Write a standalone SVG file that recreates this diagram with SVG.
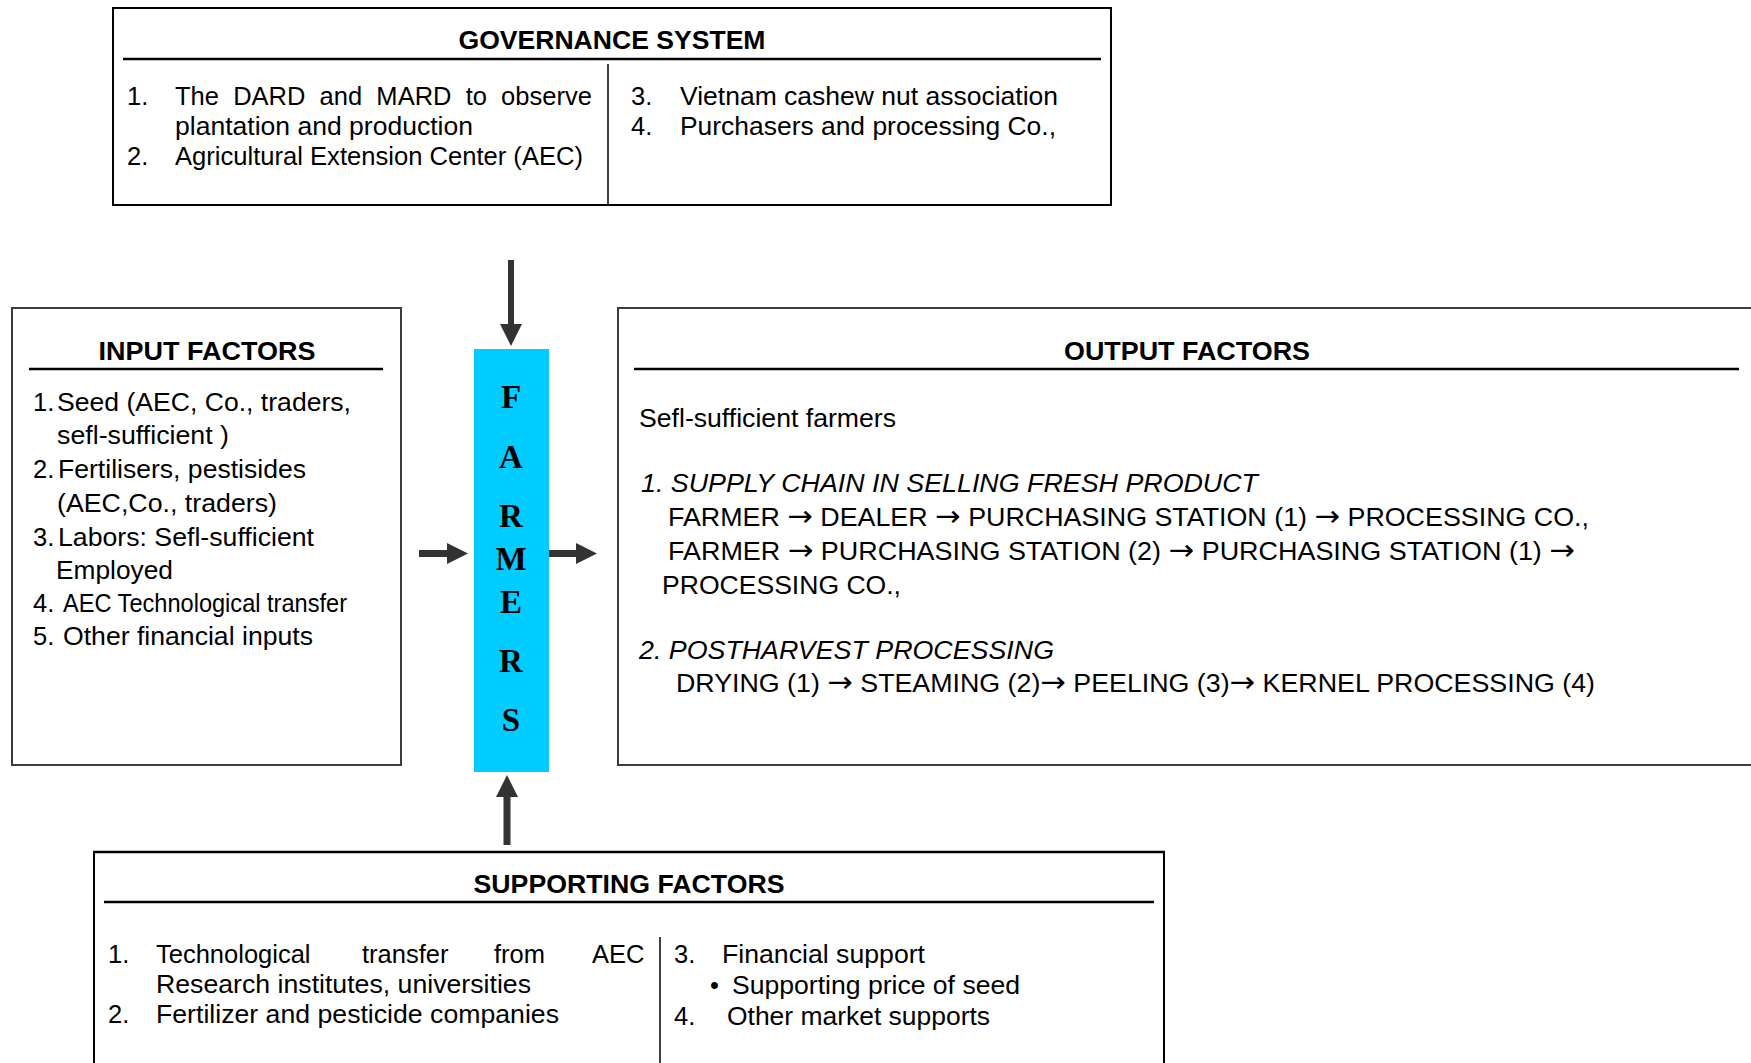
<svg xmlns="http://www.w3.org/2000/svg" width="1751" height="1063" viewBox="0 0 1751 1063">
<style>
.box{fill:none;stroke:#000;stroke-width:2}
.gbox{fill:none;stroke:#3c3c3c;stroke-width:2}
.rule{stroke:#000;stroke-width:2.5}
.div{stroke:#000;stroke-width:1.5}
.t{font-family:"Liberation Sans",Arial,"DejaVu Sans",sans-serif;font-size:25.5px;fill:#000}
.a{font-family:"DejaVu Sans",sans-serif;font-size:29px}
.h{font-family:"Liberation Sans",Arial,sans-serif;font-weight:bold;font-size:25.5px;fill:#000;text-anchor:middle}
.i{font-style:italic}
.f{font-family:"Liberation Serif","Times New Roman",serif;font-weight:bold;font-size:33px;fill:#000;text-anchor:middle}
.arr{fill:#333}
</style>
<rect width="1751" height="1063" fill="#fff"/>

<g id="governance">
<rect class="box" x="113" y="8" width="998" height="197"/>
<text class="h" x="612" y="49" textLength="307" lengthAdjust="spacingAndGlyphs">GOVERNANCE SYSTEM</text>
<line class="rule" x1="123" y1="59" x2="1101" y2="59"/>
<line class="div" x1="608" y1="64" x2="608" y2="205"/>
<text class="t" x="127" y="105">1.</text>
<text class="t" x="175" y="105" textLength="417" lengthAdjust="spacing" word-spacing="7">The DARD and MARD to observe</text>
<text class="t" x="175" y="135" textLength="298" lengthAdjust="spacingAndGlyphs">plantation and production</text>
<text class="t" x="127" y="165">2.</text>
<text class="t" x="175" y="165" textLength="408" lengthAdjust="spacingAndGlyphs">Agricultural Extension Center (AEC)</text>
<text class="t" x="631" y="105">3.</text>
<text class="t" x="680" y="105" textLength="378" lengthAdjust="spacingAndGlyphs">Vietnam cashew nut association</text>
<text class="t" x="631" y="135">4.</text>
<text class="t" x="680" y="135" textLength="376" lengthAdjust="spacingAndGlyphs">Purchasers and processing Co.,</text>
</g>

<g id="input">
<rect class="gbox" x="12" y="308" width="389" height="457"/>
<text class="h" x="207" y="360" textLength="217" lengthAdjust="spacingAndGlyphs">INPUT FACTORS</text>
<line class="rule" x1="29" y1="369" x2="383" y2="369"/>
<text class="t" x="33" y="411">1.</text>
<text class="t" x="57" y="411" textLength="294" lengthAdjust="spacingAndGlyphs">Seed (AEC, Co., traders,</text>
<text class="t" x="57" y="444" textLength="172" lengthAdjust="spacingAndGlyphs">sefl-sufficient )</text>
<text class="t" x="33" y="478">2.</text>
<text class="t" x="58" y="478" textLength="248" lengthAdjust="spacingAndGlyphs">Fertilisers, pestisides</text>
<text class="t" x="57" y="512" textLength="220" lengthAdjust="spacingAndGlyphs">(AEC,Co., traders)</text>
<text class="t" x="33" y="546">3.</text>
<text class="t" x="58" y="546" textLength="256" lengthAdjust="spacingAndGlyphs">Labors: Sefl-sufficient</text>
<text class="t" x="56" y="579" textLength="117" lengthAdjust="spacingAndGlyphs">Employed</text>
<text class="t" x="33" y="612">4.</text>
<text class="t" x="63" y="612" textLength="284" lengthAdjust="spacingAndGlyphs">AEC Technological transfer</text>
<text class="t" x="33" y="645">5.</text>
<text class="t" x="63" y="645" textLength="250" lengthAdjust="spacingAndGlyphs">Other financial inputs</text>
</g>

<g id="farmers">
<rect x="474" y="349" width="75" height="423" fill="#00CCFF"/>
<text class="f" x="511" y="408">F</text>
<text class="f" x="511" y="468">A</text>
<text class="f" x="511" y="527">R</text>
<text class="f" x="511" y="570">M</text>
<text class="f" x="511" y="613">E</text>
<text class="f" x="511" y="672">R</text>
<text class="f" x="511" y="731">S</text>
</g>

<g id="output">
<path class="gbox" d="M1751 308 H618 V765 H1751"/>
<text class="h" x="1187" y="360" textLength="246" lengthAdjust="spacingAndGlyphs">OUTPUT FACTORS</text>
<line class="rule" x1="634" y1="369" x2="1739" y2="369"/>
<text class="t" x="639" y="427" textLength="257" lengthAdjust="spacingAndGlyphs">Sefl-sufficient farmers</text>
<text class="t i" x="641" y="492" textLength="617" lengthAdjust="spacingAndGlyphs">1. SUPPLY CHAIN IN SELLING FRESH PRODUCT</text>
<text class="t" x="668" y="526" textLength="921" lengthAdjust="spacingAndGlyphs">FARMER <tspan class="a">→</tspan> DEALER <tspan class="a">→</tspan> PURCHASING STATION (1) <tspan class="a">→</tspan> PROCESSING CO.,</text>
<text class="t" x="668" y="560" textLength="907" lengthAdjust="spacingAndGlyphs">FARMER <tspan class="a">→</tspan> PURCHASING STATION (2) <tspan class="a">→</tspan> PURCHASING STATION (1) <tspan class="a">→</tspan></text>
<text class="t" x="662" y="594" textLength="239" lengthAdjust="spacingAndGlyphs">PROCESSING CO.,</text>
<text class="t i" x="639" y="659" textLength="415" lengthAdjust="spacingAndGlyphs">2. POSTHARVEST PROCESSING</text>
<text class="t" x="676" y="692" textLength="919" lengthAdjust="spacingAndGlyphs">DRYING (1) <tspan class="a">→</tspan> STEAMING (2)<tspan class="a">→</tspan> PEELING (3)<tspan class="a">→</tspan> KERNEL PROCESSING (4)</text>
</g>

<g id="supporting">
<path class="box" d="M94 1063 V852 H1164 V1063"/>
<line class="rule" x1="93" y1="852" x2="1165" y2="852"/>
<text class="h" x="629" y="893" textLength="311" lengthAdjust="spacingAndGlyphs">SUPPORTING FACTORS</text>
<line class="rule" x1="104" y1="902" x2="1154" y2="902"/>
<line class="div" x1="660" y1="937" x2="660" y2="1063"/>
<text class="t" x="108" y="963">1.</text>
<text class="t" x="156" y="963">Technological</text>
<text class="t" x="362" y="963">transfer</text>
<text class="t" x="494" y="963">from</text>
<text class="t" x="592" y="963">AEC</text>
<text class="t" x="156" y="993" textLength="375" lengthAdjust="spacingAndGlyphs">Research institutes, universities</text>
<text class="t" x="108" y="1023">2.</text>
<text class="t" x="156" y="1023" textLength="403" lengthAdjust="spacingAndGlyphs">Fertilizer and pesticide companies</text>
<text class="t" x="674" y="963">3.</text>
<text class="t" x="722" y="963" textLength="203" lengthAdjust="spacingAndGlyphs">Financial support</text>
<text class="t" x="710" y="994">•</text>
<text class="t" x="732" y="994" textLength="288" lengthAdjust="spacingAndGlyphs">Supporting price of seed</text>
<text class="t" x="674" y="1025">4.</text>
<text class="t" x="727" y="1025" textLength="263" lengthAdjust="spacingAndGlyphs">Other market supports</text>
</g>

<g id="connectors">
<path class="arr" d="M508 260 H514 V324 H522 L511 346 L500 324 H508 Z"/>
<path class="arr" d="M419 550 H447 V543 L468 553.5 L447 564 V557 H419 Z"/>
<path class="arr" d="M549 550 H576 V543 L597 553.5 L576 564 V557 H549 Z"/>
<path class="arr" d="M503.5 845 V797 H496 L507 775 L518 797 H510.5 V845 Z"/>
</g>
</svg>
